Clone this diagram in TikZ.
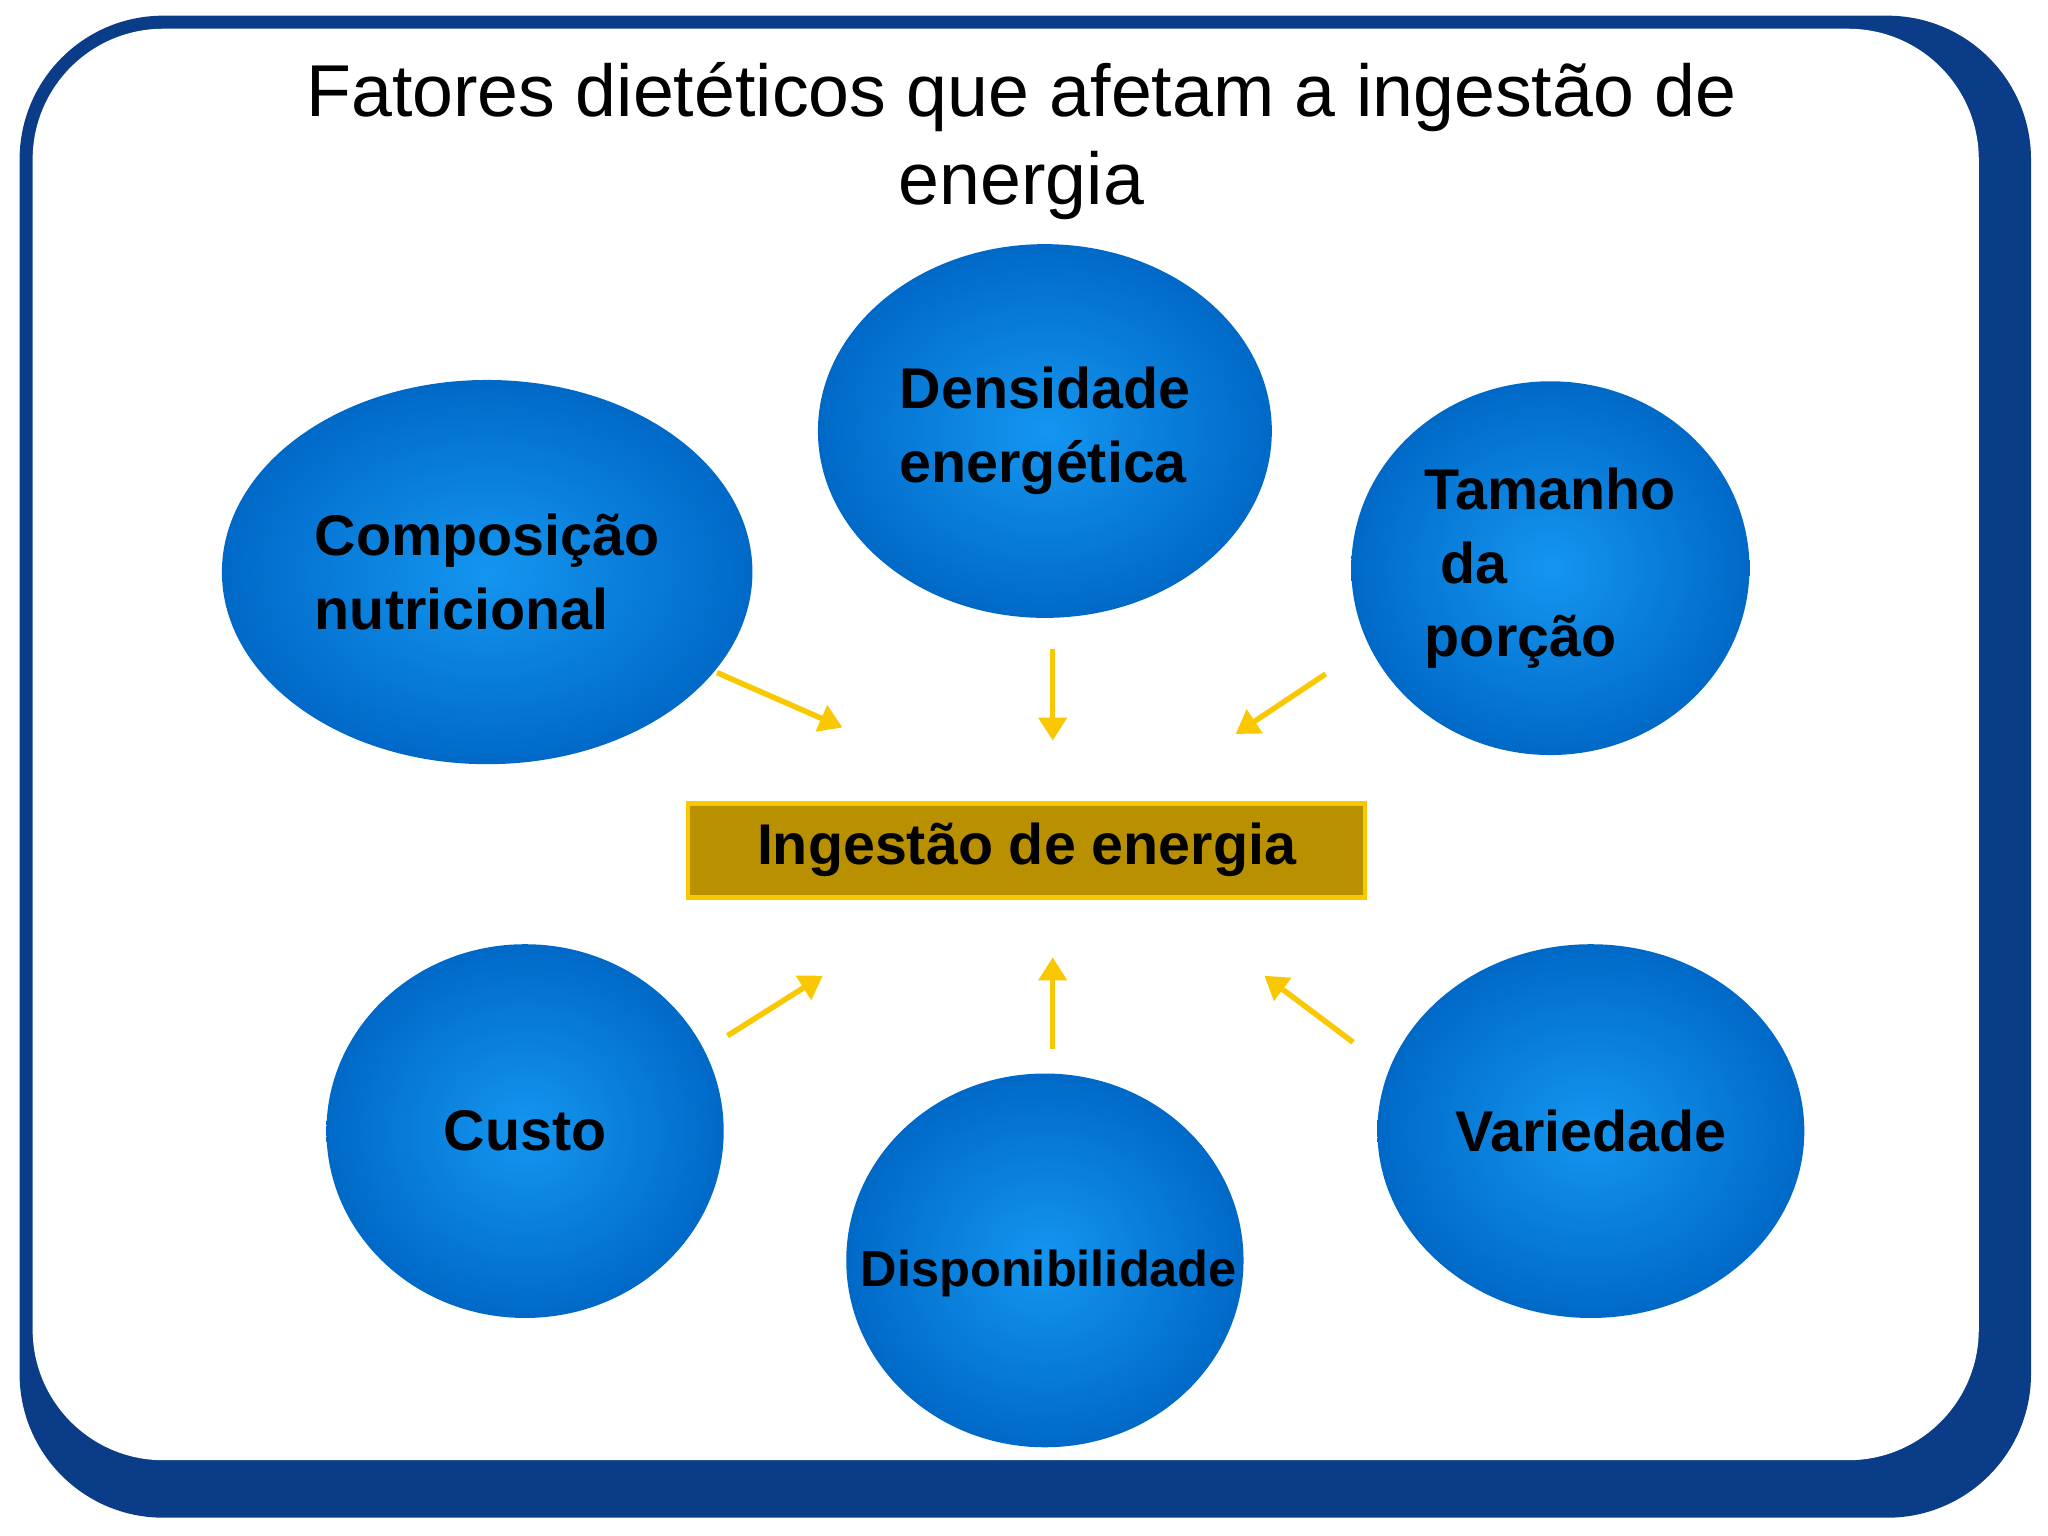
\documentclass[tikz,border=0pt]{standalone}
\usepackage{fontspec}
\setmainfont{Liberation Sans}
\usetikzlibrary{shapes.geometric,arrows.meta}
\definecolor{frameblue}{RGB}{10,60,135}
\definecolor{ballin}{RGB}{20,150,240}
\definecolor{ballout}{RGB}{0,105,200}
\definecolor{arrowy}{RGB}{250,200,0}
\definecolor{gold}{RGB}{185,145,0}
\tikzset{
 ball/.style={ellipse,minimum width=3.04cm,minimum height=2.86cm,inner color=ballin,outer color=ballout,align=left,font=\bfseries\fontsize{12.5}{16}\selectfont},
 feed/.style={draw=arrowy,line width=1.2pt,-{Triangle[length=5pt,width=6pt]}}
}
\begin{document}
\begin{tikzpicture}[x=0.01cm,y=-0.01cm]
\useasboundingbox (0,0) rectangle (1568,1176);
\fill[frameblue,rounded corners=1.1cm] (15,12) rectangle (1555,1162);
\fill[white,rounded corners=1cm] (25,22) rectangle (1515,1118);
\node[font=\fontsize{16}{19}\selectfont,align=center] (title) at (782,108) {Fatores dietéticos que afetam a ingestão de\\energia};
\node[ball] (dens) at (800,330) {Densidade\\energética};
\node[ball,minimum width=3.12cm,minimum height=2.94cm] (comp) at (373,438) {Composição\\nutricional};
\node[ball] (tam) at (1187,435) {Tamanho\\\ da\\porção};
\node[ball] (custo) at (402,866) {Custo};
\node[ball,text depth=0pt] (disp) at (800,965) {};
\node[font=\bfseries\fontsize{11}{13}\selectfont] at (803,975) {Disponibilidade};
\node[ball] (var) at (1218,866) {Variedade};
\node[draw=arrowy,line width=1pt,fill=gold,minimum width=5.18cm,minimum height=0.72cm,font=\bfseries\fontsize{12.5}{15}\selectfont] (ing) at (786,651) {Ingestão de energia};
\coordinate (a1) at (549,515); \coordinate (b1) at (645,557);
\coordinate (a2) at (806,497); \coordinate (b2) at (806,567);
\coordinate (a3) at (1015,516); \coordinate (b3) at (946,562);
\coordinate (a4) at (557,793); \coordinate (b4) at (630,747);
\coordinate (a5) at (806,803); \coordinate (b5) at (806,733);
\coordinate (a6) at (1036,798); \coordinate (b6) at (968,747);
\foreach \i in {1,...,6} \draw[feed] (a\i) -- (b\i);
\end{tikzpicture}
\end{document}
